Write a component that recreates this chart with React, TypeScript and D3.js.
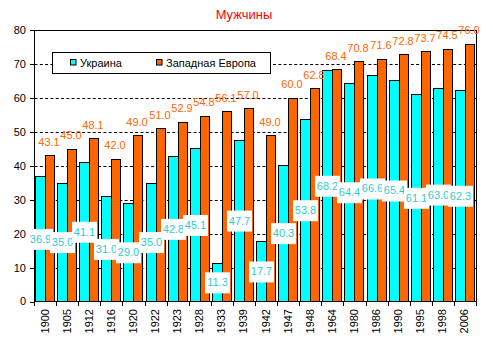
import React from "react";
import * as d3 from "d3";

const years = ["1900","1905","1912","1916","1920","1922","1923","1928","1933","1939","1942","1947","1948","1964","1980","1986","1990","1995","1998","2006"];
const ukraine = [36.9,35.0,41.1,31.0,29.0,35.0,42.8,45.1,11.3,47.7,17.7,40.3,53.8,68.2,64.4,66.6,65.4,61.1,63.0,62.3];
const westEurope = [43.1,45.0,48.1,42.0,49.0,51.0,52.9,54.8,56.1,57.0,49.0,60.0,62.8,68.4,70.8,71.6,72.8,73.7,74.5,76.0];
const yTicks = [0,10,20,30,40,50,60,70,80];
const seriesNames = ["Украина","Западная Европа"];
const title = "Мужчины";

const W = 493, H = 345;
const L = 34.5, R = 476.5, T = 30, B = 301.5;
const CYAN = "#00FFFF", ORANGE = "#FF6600", CYAN_TXT = "#33CCCC";
const FONT = "Liberation Sans, Arial, sans-serif";

export default function App() {
  const x = d3.scaleBand<string>().domain(years).range([L, R]).padding(0);
  const y = d3.scaleLinear().domain([0, 80]).range([B, T]);
  const bw = x.bandwidth();
  const barW = 10;
  const px = (v: number) => Math.round(v) + 0.5;
  const cx0 = (yr: string) => px((x(yr) as number) + 0.5);
  const cx1 = (yr: string) => cx0(yr) + barW;
  const boundaries = years.map((yr) => x(yr) as number).concat([R]);

  return (
    <svg width={W} height={H} style={{ position: "absolute", left: 0, top: 0, background: "#fff" }} fontFamily={FONT}>
      <rect x={0} y={0} width={W} height={H} fill="#fff" />
      <text x={244} y={19} textAnchor="middle" fontSize={13} fill="#FF0000">{title}</text>

      {/* gridlines */}
      {yTicks.filter((t) => t > 0 && t < 80).map((t) => (
        <line key={"g" + t} x1={L} x2={R} y1={Math.round(y(t)) + 0.5} y2={Math.round(y(t)) + 0.5}
          stroke="#000" strokeWidth={1} strokeDasharray="3,2.3" />
      ))}

      {/* bars */}
      {years.map((yr, i) => {
        const yu = px(y(ukraine[i]));
        const ye = px(y(westEurope[i]));
        return (
          <g key={"b" + yr} shapeRendering="crispEdges">
            <rect x={cx0(yr)} y={yu} width={barW} height={B - yu} fill={CYAN} stroke="#000" strokeWidth={1} />
            <rect x={cx1(yr)} y={ye} width={barW - 1} height={B - ye} fill={ORANGE} stroke="#000" strokeWidth={1} />
          </g>
        );
      })}

      {/* plot border */}
      <rect x={L} y={T + 0.5} width={R - L} height={B - T - 0.5} fill="none" stroke="#000" strokeWidth={1} />

      {/* y ticks */}
      {yTicks.map((t) => (
        <g key={"y" + t}>
          <line x1={L - 4.5} x2={L} y1={Math.round(y(t)) + 0.5} y2={Math.round(y(t)) + 0.5} stroke="#000" />
          <text x={26} y={y(t)} dy="0.36em" textAnchor="end" fontSize={11} fill="#000">{t}</text>
        </g>
      ))}

      {/* x ticks */}
      {boundaries.map((bx, i) => (
        <line key={"xt" + i} x1={px(bx - 0.5)} x2={px(bx - 0.5)} y1={B} y2={B + 4.5} stroke="#000" />
      ))}
      {years.map((yr) => {
        const c = (x(yr) as number) + bw / 2 - 1;
        return (
          <text key={"xl" + yr} transform={`translate(${c},309) rotate(-90)`} dy="0.36em" textAnchor="end" fontSize={11} fill="#000">{yr}</text>
        );
      })}

      {/* West Europe labels */}
      {years.map((yr, i) => (
        <text key={"we" + yr} x={cx1(yr) + barW / 2 - 1.5} y={y(westEurope[i]) - 9.5} textAnchor="middle" fontSize={11} fill={ORANGE}>
          {westEurope[i].toFixed(1)}
        </text>
      ))}

      {/* Ukraine labels */}
      {years.map((yr, i) => {
        const c = cx0(yr) + barW / 2;
        const cy = y(ukraine[i] / 2);
        return (
          <g key={"ua" + yr}>
            <rect x={c - 12.5} y={cy - 10} width={25} height={21} fill="#fff" />
            <text x={c} y={cy} dy="0.36em" textAnchor="middle" fontSize={11} fill={CYAN_TXT}>{ukraine[i].toFixed(1)}</text>
          </g>
        );
      })}

      {/* legend */}
      <rect x={52.5} y={52.5} width={218} height={21} fill="#fff" stroke="#000" strokeWidth={1} />
      <rect x={70.5} y={59.5} width={5.5} height={5.5} fill={CYAN} stroke="#000" strokeWidth={1} />
      <text x={80} y={66.5} fontSize={11} fill="#000">{seriesNames[0]}</text>
      <rect x={156.5} y={59.5} width={5.5} height={5.5} fill={ORANGE} stroke="#000" strokeWidth={1} />
      <text x={166} y={66.5} fontSize={11} fill="#000">{seriesNames[1]}</text>
    </svg>
  );
}
